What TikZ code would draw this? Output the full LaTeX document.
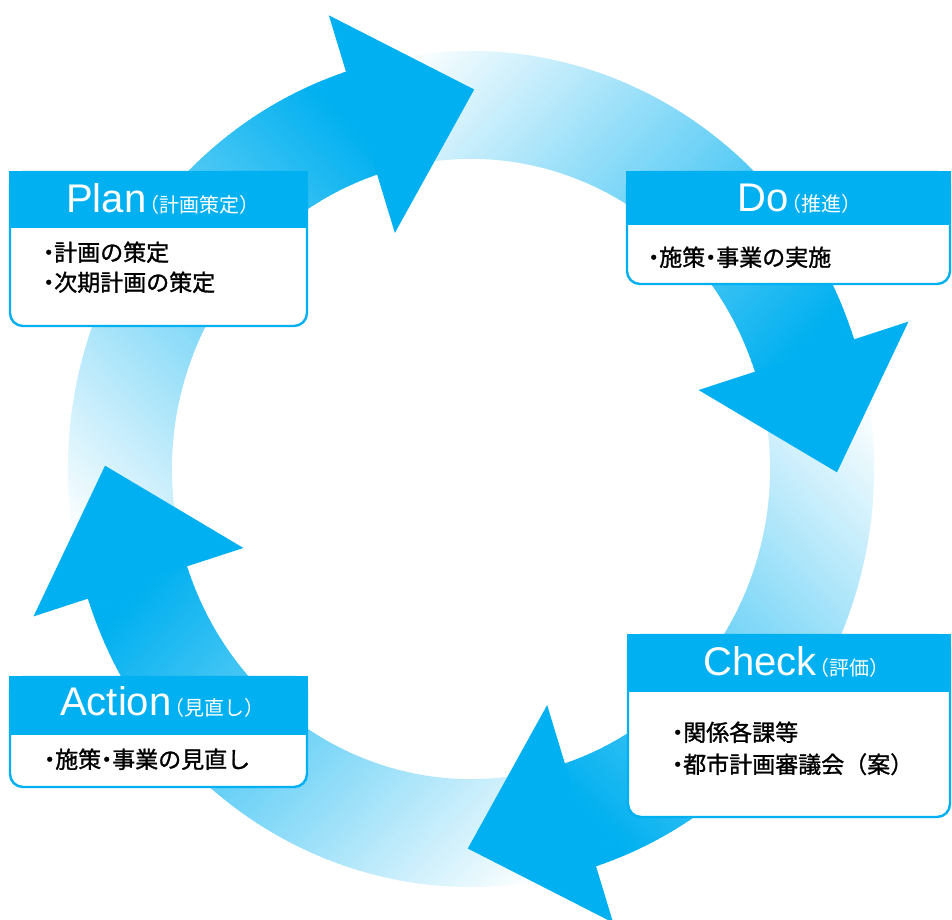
\documentclass[tikz,border=0pt]{standalone}
\usepackage{fontspec}
\setmainfont{Liberation Sans}
\newfontfamily\jp{Noto Sans CJK JP}
\newfontfamily\jpb{Noto Sans CJK JP}[FakeBold=1.2]
\definecolor{pcyan}{RGB}{0,176,240}
\newcommand{\ptdot}{\makebox[11pt][c]{・}}
\newcommand{\hjp}[1]{\jp\fontsize{20}{22}\selectfont\hspace{-7pt}#1}
\tikzset{
  boxbody/.style={fill=white, draw=pcyan, line width=2.4pt, rounded corners=13pt},
  boxhead/.style={fill=pcyan},
  headtxt/.style={text=white, anchor=base west, inner sep=0pt, font=\fontsize{40}{42}\selectfont},
  bodytxt/.style={anchor=base west, inner sep=0pt, font=\jpb\fontsize{23}{27}\selectfont},
  ringframe/.style={shift={(471,450)}, yscale=1.037, rotate=-90*#1}
}
\begin{document}
\begin{tikzpicture}[x=1pt,y=1pt]
\useasboundingbox (0,0) rectangle (952,919);
% arrow bodies with gradient
\foreach \k in {0,1,2,3}{
  \begin{scope}[ringframe=\k]
    \clip (196:403) arc[start angle=196, end angle=107, radius=403]
      -- (107:299) arc[start angle=107, end angle=196, radius=299] -- cycle;
    \begin{scope}[rotate=45]
      \foreach \t in {-380,-375,...,215}{
        \pgfmathsetmacro\p{max(0,min(100,(\t+330)/4.8))}
        \fill[pcyan!\p!white] (\t,-520) rectangle (\t+5.6,520);
      }
    \end{scope}
  \end{scope}
}
% arrow heads
\foreach \k in {0,1,2,3}{
  \fill[pcyan, ringframe=\k] (108:460) -- (89.5:366) -- (108.5:240) -- cycle;
}
% Plan
\draw[boxbody] (10,747) rectangle (307,593);
\fill[boxhead] (8.8,748.2) rectangle (308.2,691);
\node[headtxt] (planh) at (66,706) {Plan\hjp{（計画策定）}};
\node[bodytxt] (plan1) at (43,658) {\ptdot 計画の策定};
\node[bodytxt] (plan2) at (43,628) {\ptdot 次期計画の策定};
% Do
\draw[boxbody] (627,747) rectangle (950,635);
\fill[boxhead] (625.8,748.2) rectangle (951.2,694);
\node[headtxt] (doh) at (737,707) {Do\hjp{（推進）}};
\node[bodytxt] (do1) at (648,653) {\ptdot 施策\ptdot 事業の実施};
% Check
\draw[boxbody] (628,284) rectangle (950,102);
\fill[boxhead] (626.8,285.2) rectangle (951.2,227);
\node[headtxt] (checkh) at (703,244) {Check\hjp{（評価）}};
\node[bodytxt] (check1) at (672,178) {\ptdot 関係各課等};
\node[bodytxt] (check2) at (672,146) {\ptdot 都市計画審議会（案）};
% Action
\draw[boxbody] (10,242) rectangle (307,132);
\fill[boxhead] (8.8,243.2) rectangle (308.2,184);
\node[headtxt] (acth) at (60,204) {Action\hjp{（見直し）}};
\node[bodytxt] (act1) at (44,151) {\ptdot 施策\ptdot 事業の見直し};
\end{tikzpicture}
\end{document}
